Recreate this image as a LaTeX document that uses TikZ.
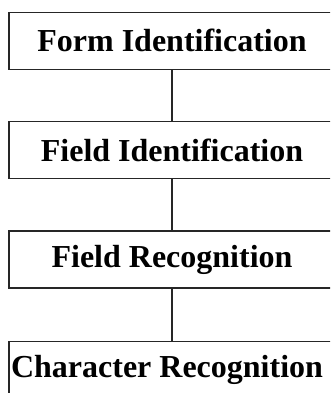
\documentclass[tikz,border=0pt]{standalone}
\usepackage{fontspec}
\setmainfont{Liberation Serif}
\begin{document}
\begin{tikzpicture}[x=1pt,y=-1pt,
  stage/.style={draw=black!85, line width=1.3pt, minimum width=326pt, minimum height=57pt,
    inner sep=0pt, font=\fontsize{32}{32}\selectfont\bfseries},
  link/.style={draw=black!85, line width=1.6pt}]
\useasboundingbox (0,0) rectangle (330,393);
\clip (0,0) rectangle (330,393);
\node[stage] (f1) at (172,40.8) {Form Identification};
\node[stage] (f2) at (172,150.3) {Field Identification};
\node[stage] (f3) at (172,259.5) {Field Recognition};
\node[stage] (f4) at (172,370.2) {\hspace*{-10pt}Character Recognition};
\draw[link] (f1.south) -- (f2.north);
\draw[link] (f2.south) -- (f3.north);
\draw[link] (f3.south) -- (f4.north);
\end{tikzpicture}
\end{document}
